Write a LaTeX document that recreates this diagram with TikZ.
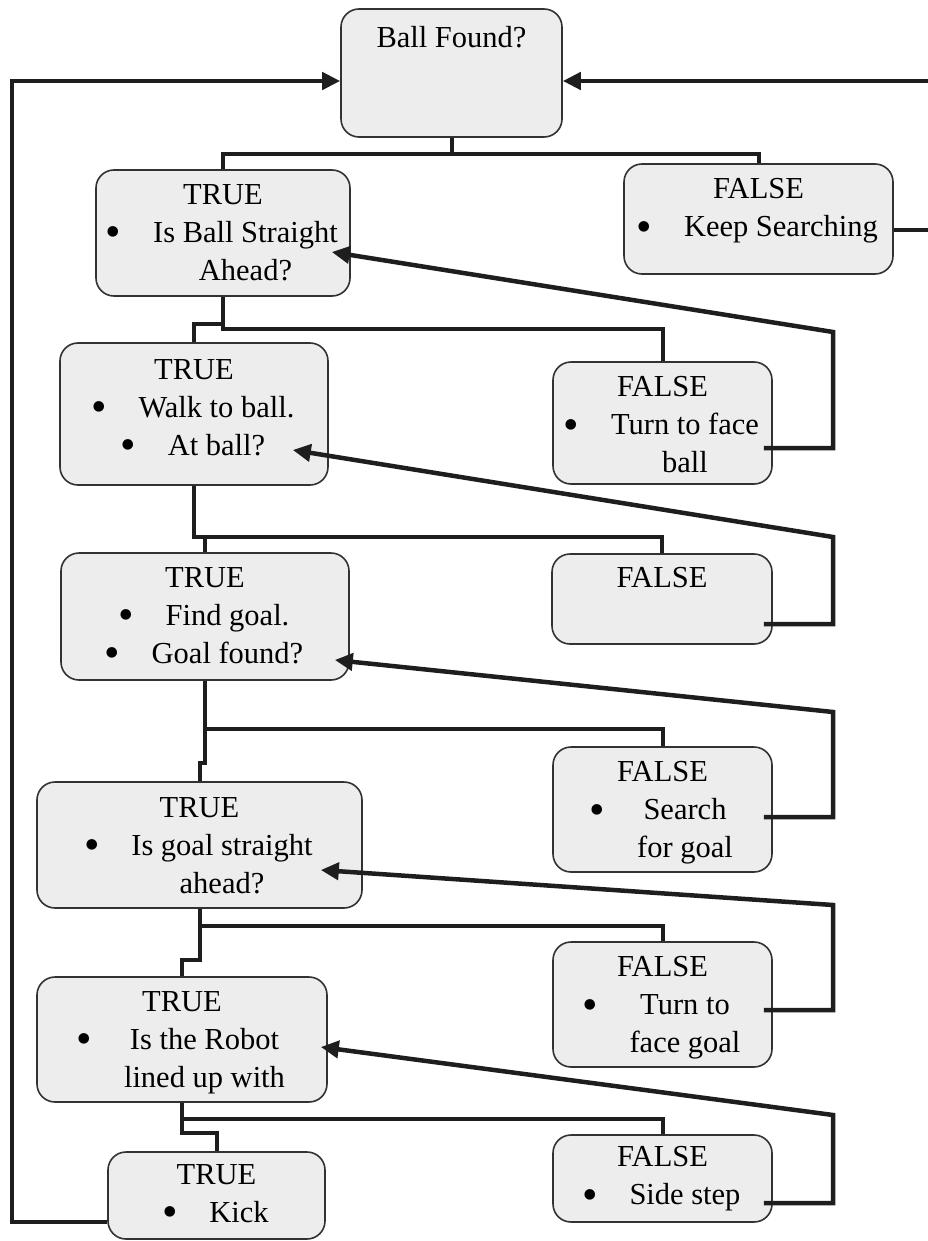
\documentclass[tikz,border=0pt]{standalone}
\usepackage{fontspec}
\setmainfont{Liberation Serif}
\usepackage{tikz}
\usetikzlibrary{arrows.meta}
\usetikzlibrary{calc}
\usetikzlibrary{positioning}

\definecolor{boxfill}{RGB}{237,237,237}
\definecolor{boxline}{RGB}{50,50,50}
\definecolor{wire}{RGB}{30,30,30}

% bullet item, wrapped lines centred after the bullet
\newcommand{\bdot}{\makebox[11pt]{\raisebox{-0.15em}{\scalebox{1.45}{\textbullet}}}}
\newcommand{\bitem}[1]{\bdot\hspace{34pt}\begin{tabular}[t]{@{}c@{}}#1\end{tabular}}

\begin{document}
\begin{tikzpicture}[x=1pt, y=-1pt,
  box/.style={draw=boxline, fill=boxfill, line width=1.6pt, rounded corners=18pt, inner sep=0pt},
  txt/.style={align=center, inner sep=0pt, font=\fontsize{30.5}{38}\selectfont},
  link/.style={draw=wire, line width=4pt},
  back/.style={draw=wire, line width=4.5pt, -{Triangle[length=18pt,width=17pt]}}]

\newcommand{\railx}{833}
\newcommand{\leftx}{12}
\newcommand{\rightx}{932}

	\useasboundingbox (0,0) rectangle (927,1241);

	% decision boxes
	\node[box, minimum width=221, minimum height=128] (bf) at (451.5,73) {};
	\node[box, minimum width=254, minimum height=126] (t1) at (223,233) {};
	\node[box, minimum width=269, minimum height=110] (f1) at (758.5,219) {};
	\node[box, minimum width=268, minimum height=142] (t2) at (194,414) {};
	\node[box, minimum width=219, minimum height=122] (f2) at (662.5,423) {};
	\node[box, minimum width=288, minimum height=127] (t3) at (205,616.5) {};
	\node[box, minimum width=220, minimum height=90] (f3) at (662,599) {};
	\node[box, minimum width=325, minimum height=126] (t4) at (199.5,845) {};
	\node[box, minimum width=219, minimum height=125] (f4) at (662.5,809.5) {};
	\node[box, minimum width=290, minimum height=125] (t5) at (182,1039.5) {};
	\node[box, minimum width=219, minimum height=125] (f5) at (662.5,1004.5) {};
	\node[box, minimum width=217, minimum height=87] (t6) at (216.5,1195.5) {};
	\node[box, minimum width=219, minimum height=87] (f6) at (662.5,1178.5) {};

	% texts
	\node[txt, below=18pt of bf.north] (bft) {Ball Found?};
	\node[txt, below=15pt of t1.north] (t1t) {TRUE\\\bitem{Is Ball Straight\\Ahead?}};
	\node[txt, below=15pt of f1.north] (f1t) {FALSE\\\bitem{Keep Searching}};
	\node[txt, below=17pt of t2.north] (t2t) {TRUE\\\bitem{Walk to ball.}\\\bitem{At ball?}};
	\node[txt, below=15pt of f2.north] (f2t) {FALSE\\\bitem{Turn to face\\ball}};
	\node[txt, below=15pt of t3.north] (t3t) {TRUE\\\bitem{Find goal.}\\\bitem{Goal found?}};
	\node[txt, below=14pt of f3.north] (f3t) {FALSE};
	\node[txt, below=16pt of t4.north] (t4t) {TRUE\\\bitem{Is goal straight\\ahead?}};
	\node[txt, below=15pt of f4.north] (f4t) {FALSE\\\bitem{Search\\for goal}};
	\node[txt, below=15pt of t5.north] (t5t) {TRUE\\\bitem{Is the Robot\\lined up with}};
	\node[txt, below=15pt of f5.north] (f5t) {FALSE\\\bitem{Turn to\\face goal}};
	\node[txt, below=13pt of t6.north] (t6t) {TRUE\\\bitem{Kick}};
	\node[txt, below=12pt of f6.north] (f6t) {FALSE\\\bitem{Side step}};

	% branch junctions
	\coordinate (j1) at ($(bf.south)+(0,16)$);
	\coordinate (j2) at ($(t1.south)+(0,32)$);
	\coordinate (k2) at ($(t1.south)+(0,27)$);
	\coordinate (j3) at ($(t2.south)+(0,51)$);
	\coordinate (j4) at ($(t3.south)+(0,48)$);
	\coordinate (k4) at ($(t3.south)+(0,82)$);
	\coordinate (j5) at ($(t4.south)+(0,17)$);
	\coordinate (k5) at ($(t4.south)+(0,51)$);
	\coordinate (j6) at ($(t5.south)+(0,16)$);
	\coordinate (k6) at ($(t5.south)+(0,30)$);

	\draw[link] (bf.south) -- (j1) -| (t1.north);
	\draw[link] (j1) -| (f1.north);
	\draw[link] (t1.south) -- (j2) -| (f2.north);
	\draw[link] (k2) -| (t2.north);
	\draw[link] (t2.south) -- (j3) -| (f3.north);
	\draw[link] (j3) -| (t3.north);
	\draw[link] (t3.south) -- (j4) -| (f4.north);
	\draw[link] (j4) -- (k4) -| (t4.north);
	\draw[link] (t4.south) -- (j5) -| (f5.north);
	\draw[link] (j5) -- (k5) -| (t5.north);
	\draw[link] (t5.south) -- (j6) -| (f6.north);
	\draw[link] (j6) -- (k6) -| (t6.north);

	% FALSE branches back to the question above
	\draw[back] ($(f2.east)+(-9,25)$) -| (\railx,332) -- ($(t1.east)+(-19,19)$);
	\draw[back] ($(f3.east)+(-9,25)$) -| (\railx,537) -- ($(t2.east)+(-36,36)$);
	\draw[back] ($(f4.east)+(-9,7.5)$) -| (\railx,712) -- ($(t3.east)+(-15,43.5)$);
	\draw[back] ($(f5.east)+(-9,5.5)$) -| (\railx,905) -- ($(t4.east)+(-42,25)$);
	\draw[back] ($(f6.east)+(-9,24.5)$) -| (\railx,1115) -- ($(t5.east)+(-7,7.5)$);

	% outer loops to Ball Found?
	\draw[back] ($(t6.west)+(0,26.5)$) -| (\leftx,81) -- ($(bf.west)+(0,8)$);
	\draw[back] ($(f1.east)+(0,11)$) -| (\rightx,81) -- ($(bf.east)+(0,8)$);
\end{tikzpicture}
\end{document}
